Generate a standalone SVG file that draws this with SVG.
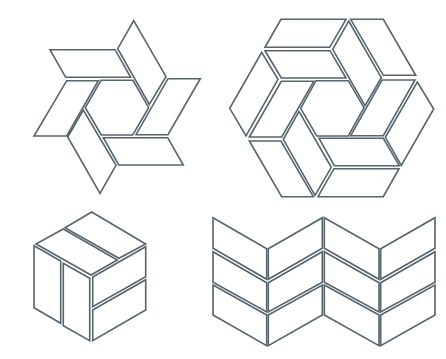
<svg xmlns="http://www.w3.org/2000/svg" width="446" height="359" viewBox="0 0 446 359">
<style>polygon{fill:#fff;stroke:#56646c;stroke-width:1.6;stroke-linejoin:miter}</style>
<rect width="446" height="359" fill="#fff"/>
<g id="star">
<polygon points="133.7,20.7 166,76.7 149.3,104.3 117.7,48.7"/>
<polygon points="168,78.7 200.3,78.7 168,134.7 136,134.7"/>
<polygon points="103.3,137.7 167.7,137.7 183.3,165 118.7,165"/>
<polygon points="67.7,137 83.3,110 116,165.3 100,193.3"/>
<polygon points="66.7,80.7 98.3,80.7 66.7,136 34,136"/>
<polygon points="50,49.7 115,49.7 130.7,77.3 65.7,77.3"/>
<polygon points="148.7,107.7 132.7,135 101.3,135 85.3,107.7 101,80.3 133,80.3"/>
</g>
<g id="hexagon">
<polygon points="281,19.3 346,19.3 329.7,47.3 265,47.3"/>
<polygon points="350.7,19.3 383.3,19.3 415.7,75.3 383.3,75.3"/>
<polygon points="265,50.7 330,50.7 346,78 281.3,78"/>
<polygon points="348.7,21 381.3,77.7 365,105.7 332.7,49.3"/>
<polygon points="382,80 415,80 383.3,135.7 350.7,135.7"/>
<polygon points="417.3,82 433.7,109 401.3,165.3 385.3,137.3"/>
<polygon points="319,138.3 383.3,138.3 399.3,165.7 334.3,165.7"/>
<polygon points="334,168.7 399,168.7 383.3,196.7 318,196.7"/>
<polygon points="299,111.3 331.3,167.3 315,195.3 283.3,139.3"/>
<polygon points="249.3,141 281,141 313.3,196.7 281.7,196.7"/>
<polygon points="281.3,81.3 313.7,81.3 281.7,137 249.3,137"/>
<polygon points="261.7,52.3 278,79.3 246,136 229.7,108.3"/>
<polygon points="316,80.7 348.3,80.7 364,107.7 348.3,136 316.7,136 300.7,108.3"/>
</g>
<g id="cube">
<polygon points="91.7,212 145.7,244 119,258.3 65,227.7"/>
<polygon points="63.3,229 117.3,260 91,275 36,244"/>
<polygon points="34,245.7 60.7,261 60.7,323.3 34,307.7"/>
<polygon points="63.3,263.3 89.7,278.3 89.7,340.7 63.3,325.7"/>
<polygon points="92.7,277 145.7,246.7 145.7,276.7 92.7,306.7"/>
<polygon points="92.7,310 145.7,279.7 145.7,310 92.7,340.7"/>
</g>
<g id="chevrons">
<polygon points="213,217.7 266.7,248.7 266.7,279.3 213,248.3"/>
<polygon points="213,251.7 266.7,282.7 266.7,312 213,282.3"/>
<polygon points="213,285 266.7,315 266.7,345.7 213,315"/>
<polygon points="268.3,248.7 322.3,217.7 322.3,248.3 268.3,279.3"/>
<polygon points="268.3,282.7 322.3,251.7 322.3,282.3 268.3,312"/>
<polygon points="268.3,315 322.3,285 322.3,315 268.3,345.7"/>
<polygon points="324.3,217.7 379,248.7 379,279.3 324.3,248.3"/>
<polygon points="324.3,251.7 379,282.7 379,312 324.3,282.3"/>
<polygon points="324.3,285 379,315 379,345.7 324.3,315"/>
<polygon points="380.7,248.7 435,217.7 435,248.3 380.7,279.3"/>
<polygon points="380.7,282.7 435,251.7 435,282.3 380.7,312"/>
<polygon points="380.7,315 435,285 435,315 380.7,345.7"/>
</g>
</svg>
